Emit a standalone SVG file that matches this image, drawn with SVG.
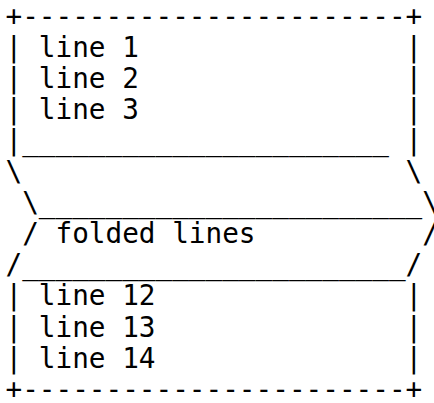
<svg xmlns="http://www.w3.org/2000/svg" width="434" height="403" viewBox="0 0 434 403">
<style>
text{font-family:"DejaVu Sans Mono","Liberation Mono",monospace;font-size:27.7px;fill:#000;white-space:pre}
</style>
<rect width="434" height="403" fill="#fff"/>
<g id="top-box">
<text x="5.5" y="25.5" xml:space="preserve">+-----------------------+</text>
<text x="5.5" y="56.6" xml:space="preserve">| line 1                |</text>
<text x="5.5" y="87.7" xml:space="preserve">| line 2                |</text>
<text x="5.5" y="118.8" xml:space="preserve">| line 3                |</text>
<text x="5.5" y="149.9" xml:space="preserve">|______________________ |</text>
</g>
<g id="fold">
<text x="5.5" y="181" xml:space="preserve">\                       \</text>
<text x="5.5" y="212.1" xml:space="preserve"> \_______________________\</text>
<text x="5.5" y="243.2" xml:space="preserve"> / folded lines          /</text>
<text x="5.5" y="274.3" xml:space="preserve">/_______________________/</text>
</g>
<g id="bottom-box">
<text x="5.5" y="305.4" xml:space="preserve">| line 12               |</text>
<text x="5.5" y="336.5" xml:space="preserve">| line 13               |</text>
<text x="5.5" y="367.6" xml:space="preserve">| line 14               |</text>
<text x="5.5" y="398.7" xml:space="preserve">+-----------------------+</text>
</g>
</svg>
